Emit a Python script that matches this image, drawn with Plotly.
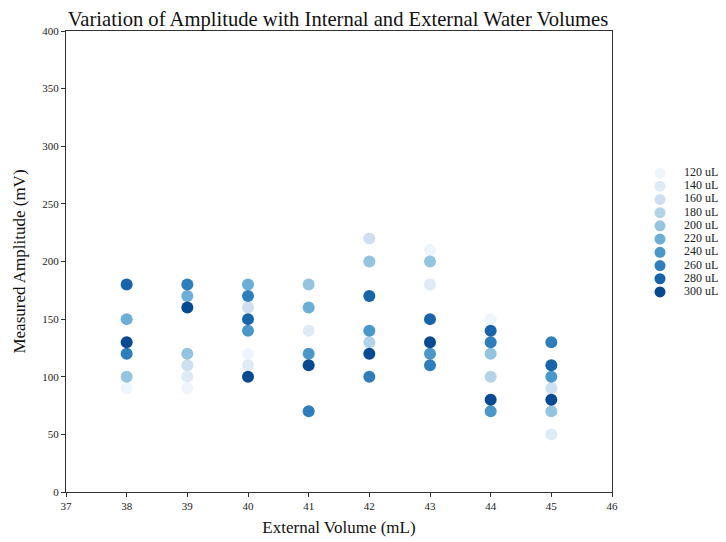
import plotly.graph_objects as go

external_volume = [38, 39, 40, 41, 42, 43, 44, 45]
internal_labels = ["120 uL", "140 uL", "160 uL", "180 uL", "200 uL",
                   "220 uL", "240 uL", "260 uL", "280 uL", "300 uL"]
colors = ["#eef5fc", "#deebf7", "#cde0f1", "#b3d3e8", "#94c4df",
          "#6caed6", "#4a98c9", "#2f7ebc", "#1864aa", "#084a91"]

amp_120 = [90, 90, 120, None, None, 210, 150, None]
amp_140 = [None, 100, 110, 140, None, 180, None, 50]
amp_160 = [None, 110, 160, None, 220, None, None, 90]
amp_180 = [None, None, None, None, 130, None, 100, None]
amp_200 = [100, 120, None, 180, 200, 200, 120, 70]
amp_220 = [150, 170, 180, 160, None, None, None, None]
amp_240 = [None, None, 140, 120, 140, 120, 70, 100]
amp_260 = [120, 180, 170, 70, 100, 110, 130, 130]
amp_280 = [180, None, 150, None, 170, 150, 140, 110]
amp_300 = [130, 160, 100, 110, 120, 130, 80, 80]

series = [amp_120, amp_140, amp_160, amp_180, amp_200,
          amp_220, amp_240, amp_260, amp_280, amp_300]

x_ticks = list(range(37, 47))
y_ticks = list(range(0, 401, 50))

FONT = "Liberation Serif"
W, H = 718, 534

fig = go.Figure()
for lab, col, ys in zip(internal_labels, colors, series):
    fig.add_trace(go.Scatter(
        x=external_volume, y=ys, mode="markers", name=lab,
        marker=dict(color=col, size=12, line=dict(width=0)),
        showlegend=False, xaxis="x", yaxis="y"))

# custom legend drawn on a secondary axis
legend_idx = [-i for i in range(len(internal_labels))]
fig.add_trace(go.Scatter(
    x=[0] * len(internal_labels), y=legend_idx, mode="markers",
    marker=dict(color=colors, size=11, line=dict(width=0)),
    showlegend=False, xaxis="x2", yaxis="y2", hoverinfo="skip",
    cliponaxis=False))
fig.add_trace(go.Scatter(
    x=[1] * len(internal_labels), y=legend_idx, mode="text",
    text=internal_labels, textposition="middle right",
    textfont=dict(family=FONT, size=12, color="#222"),
    showlegend=False, xaxis="x2", yaxis="y2", hoverinfo="skip",
    cliponaxis=False))

fig.update_layout(
    width=W, height=H,
    margin=dict(l=58, r=4, t=23, b=50, autoexpand=False),
    paper_bgcolor="white", plot_bgcolor="white",
    font=dict(family=FONT, size=11, color="#222"),
    title=dict(text="Variation of Amplitude with Internal and External Water Volumes",
               x=330 / W, xanchor="center", xref="container",
               y=1 - 11 / H, yanchor="middle", yref="container",
               font=dict(family=FONT, size=20.6, color="#111")),
    xaxis=dict(domain=[0, 546 / 656], range=[37, 46], tickmode="array",
               tickvals=x_ticks, ticks="outside", ticklen=4, tickcolor="#333",
               showline=True, linecolor="#333", linewidth=1, mirror=True,
               showgrid=False, zeroline=False, automargin=False,
               tickfont=dict(family=FONT, size=11, color="#222"),
               title=dict(text="External Volume (mL)", standoff=9,
                          font=dict(family=FONT, size=17, color="#111"))),
    yaxis=dict(range=[0, 400], tickmode="array", tickvals=y_ticks,
               ticks="outside", ticklen=4, tickcolor="#333",
               showline=True, linecolor="#333", linewidth=1, mirror=True,
               showgrid=False, zeroline=False, automargin=False,
               tickfont=dict(family=FONT, size=11, color="#222"),
               title=dict(text="Measured Amplitude (mV)", standoff=12,
                          font=dict(family=FONT, size=17, color="#111"))),
    xaxis2=dict(domain=[584 / 656, 1], range=[-0.4167, 2.5833], anchor="y2",
                visible=False, fixedrange=True),
    yaxis2=dict(domain=[0, 1], range=[-24.13, 10.74], anchor="x2",
                visible=False, fixedrange=True),
)

fig.write_html("out.html")
